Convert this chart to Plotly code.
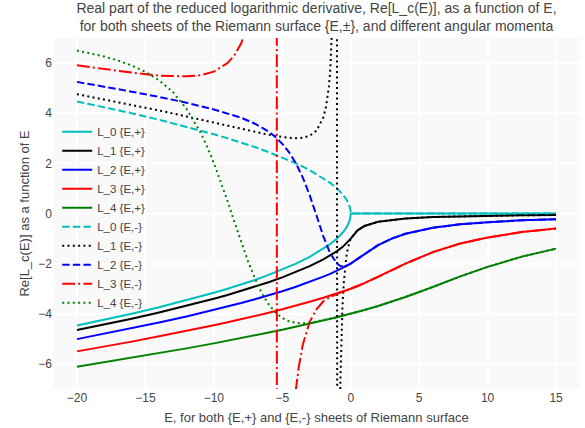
import plotly.graph_objects as go

# ---- data ----
E_pos = [0.5, 1, 2, 3, 4, 6, 8, 10, 12.5, 15]

E_main = [-20, -18, -16, -14, -12, -10, -9, -8, -7, -6, -5, -4, -3, -2, -1.5, -1,
          -0.6, -0.3, -0.1, -0.02, 0] + E_pos

L0_plus = [-4.47, -4.24, -4.00, -3.74, -3.46, -3.16, -3.00, -2.83, -2.65, -2.45, -2.24, -2.00,
           -1.73, -1.41, -1.22, -1.00, -0.77, -0.55, -0.32, -0.14, 0,
           0, 0, 0, 0, 0, 0, 0, 0, 0, 0]
L1_plus = [-4.65, -4.43, -4.20, -3.95, -3.69, -3.40, -3.25, -3.09, -2.92, -2.74, -2.55, -2.33,
           -2.10, -1.83, -1.67, -1.50, -1.34, -1.19, -1.08, -1.02, -1.00,
           -0.67, -0.50, -0.33, -0.25, -0.20, -0.14, -0.11, -0.09, -0.07, -0.06]
L2_plus = [-5.01, -4.80, -4.58, -4.35, -4.11, -3.85, -3.71, -3.57, -3.42, -3.27, -3.10, -2.92,
           -2.73, -2.52, -2.41, -2.29, -2.18, -2.09, -2.03, -2.01, -2.00,
           -1.81, -1.62, -1.26, -1.00, -0.81, -0.57, -0.43, -0.35, -0.27, -0.23]
L3_plus = [-5.50, -5.31, -5.11, -4.90, -4.69, -4.46, -4.34, -4.22, -4.09, -3.96, -3.82, -3.68,
           -3.52, -3.36, -3.28, -3.19, -3.12, -3.06, -3.02, -3.00, -3.00,
           -2.90, -2.78, -2.53, -2.27, -2.00, -1.54, -1.20, -0.96, -0.74, -0.60]
L4_plus = [-6.11, -5.93, -5.76, -5.57, -5.38, -5.18, -5.08, -4.97, -4.87, -4.75, -4.64, -4.52,
           -4.40, -4.27, -4.21, -4.14, -4.08, -4.04, -4.01, -4.00, -4.00,
           -3.93, -3.85, -3.69, -3.52, -3.33, -2.93, -2.51, -2.13, -1.72, -1.40]

L0_minus = [4.47, 4.24, 4.00, 3.74, 3.46, 3.16, 3.00, 2.83, 2.65, 2.45, 2.24, 2.00,
            1.73, 1.41, 1.22, 1.00, 0.77, 0.55, 0.32, 0.14, 0,
            0, 0, 0, 0, 0, 0, 0, 0, 0, 0]

E_L1m = [-20, -18, -16, -14, -12, -10, -9, -8, -7, -6, -5, -4, -3.5, -3, -2.5, -2, -1.8, -1.6,
         -1.5, -1.4, -1.3, -1.2, -1.05, -0.95, -0.9, -0.85, -0.8, -0.75, -0.7, -0.6, -0.5,
         -0.4, -0.3, -0.2, -0.1, -0.02, 0] + E_pos
L1_minus = [4.76, 4.55, 4.33, 4.11, 3.87, 3.62, 3.50, 3.38, 3.25, 3.14, 3.05, 3.00, 3.02, 3.10,
            3.30, 3.83, 4.27, 5.04, 5.67, 6.64, 8.27, 11.58, 41.5, -38.5, -18.55, -11.9,
            -8.58, -6.60, -5.29, -3.66, -2.71, -2.09, -1.66, -1.36, -1.15, -1.02, -1.00,
            -0.67, -0.50, -0.33, -0.25, -0.20, -0.14, -0.11, -0.09, -0.07, -0.06]

E_L2m = [-20, -18, -16, -14, -12, -10, -9, -8, -7, -6, -5.5, -5, -4.5, -4, -3.5, -3, -2.5,
         -2, -1.5, -1, -0.8, -0.6, -0.3, -0.1, -0.02, 0] + E_pos
L2_minus = [5.25, 5.06, 4.86, 4.65, 4.42, 4.15, 4.00, 3.82, 3.58, 3.27, 3.05, 2.78, 2.44,
            2.00, 1.43, 0.73, -0.08, -0.91, -1.59, -2.00, -2.08, -2.11, -2.08, -2.03,
            -2.01, -2.00,
            -1.81, -1.62, -1.26, -1.00, -0.81, -0.57, -0.43, -0.35, -0.27, -0.23]

E_L3m = [-20, -18, -16, -14, -13, -12, -11, -10, -9, -8.5, -8, -7.5, -7, -6, -5.6, -5.45,
         -5.34, -5.2, -5, -4.5, -4, -3.8, -3.5, -3, -2.5, -2, -1.5, -1, -0.6, -0.3, -0.1,
         -0.02, 0] + E_pos
L3_minus = [5.91, 5.75, 5.62, 5.50, 5.47, 5.47, 5.51, 5.66, 6.00, 6.31, 6.79, 7.58, 8.95,
            19.65, 53.8, 189, -205, -55.0, -26.1, -11.07, -7.00, -6.14, -5.23, -4.32,
            -3.82, -3.50, -3.33, -3.20, -3.12, -3.06, -3.02, -3.00, -3.00,
            -2.90, -2.78, -2.53, -2.27, -2.00, -1.54, -1.20, -0.96, -0.74, -0.60]

E_L4m = [-20, -19, -18, -17, -16, -15, -14, -13, -12, -11, -10.5, -10, -9.5, -9, -8.5, -8,
         -7.5, -7, -6.5, -6, -5.5, -5, -4.5, -4, -3.5, -3, -2, -1.5, -1, -0.6, -0.3, -0.1,
         -0.02, 0] + E_pos
L4_minus = [6.50, 6.39, 6.26, 6.10, 5.90, 5.65, 5.31, 4.85, 4.18, 3.26, 2.68, 2.02, 1.29,
            0.50, -0.33, -1.13, -1.91, -2.59, -3.17, -3.62, -3.95, -4.17, -4.30, -4.36,
            -4.38, -4.36, -4.26, -4.20, -4.14, -4.08, -4.04, -4.01, -4.00, -4.00,
            -3.93, -3.85, -3.69, -3.52, -3.33, -2.93, -2.51, -2.13, -1.72, -1.40]

names = ["L_0 {E,+}", "L_1 {E,+}", "L_2 {E,+}", "L_3 {E,+}", "L_4 {E,+}",
         "L_0 {E,-}", "L_1 {E,-}", "L_2 {E,-}", "L_3 {E,-}", "L_4 {E,-}"]

# ---- styles ----
colors = ["#00BFBF", "#000000", "#0000FF", "#FF0000", "#008000"]
DASH = "7.4px,3.2px"
DOT = "2px,3.3px"
DASHDOT = "12.8px,3.2px,2px,3.2px"
minus_dash = [DASH, DOT, DASH, DASHDOT, DOT]

series = [
    (E_main, L0_plus), (E_main, L1_plus), (E_main, L2_plus), (E_main, L3_plus), (E_main, L4_plus),
    (E_main, L0_minus), (E_L1m, L1_minus), (E_L2m, L2_minus), (E_L3m, L3_minus), (E_L4m, L4_minus),
]

fig = go.Figure()
for i, ((xs, ys), nm) in enumerate(zip(series, names)):
    c = colors[i % 5]
    dash = "solid" if i < 5 else minus_dash[i - 5]
    fig.add_trace(go.Scatter(x=xs, y=ys, mode="lines", name=nm,
                             line=dict(color=c, width=2, dash=dash)))

font_family = "Arial, Liberation Sans, sans-serif"
fig.update_layout(
    width=585, height=428,
    margin=dict(l=53, r=5, t=38, b=39),
    paper_bgcolor="white",
    plot_bgcolor="#f9f9f9",
    font=dict(family=font_family, size=12, color="#444"),
    title=dict(text="Real part of the reduced logarithmic derivative, Re[L_c(E)], as a function of E,"
                    "<br>for both sheets of the Riemann surface {E,±}, and different angular momenta",
               x=0.541, xanchor="center", y=0.969, yanchor="top",
               font=dict(size=14, color="#444")),
    legend=dict(x=0.008, y=0.774, xanchor="left", yanchor="top",
                bgcolor="rgba(0,0,0,0)", font=dict(size=11.5, color="#444"),
                tracegroupgap=0),
    showlegend=True,
)
fig.update_xaxes(range=[-21.75, 16.75], tickvals=[-20, -15, -10, -5, 0, 5, 10, 15],
                 gridcolor="white", gridwidth=1.5, zeroline=False, showline=False,
                 title=dict(text="E, for both {E,+} and {E,-} sheets of Riemann surface",
                            font=dict(size=13), standoff=8),
                 tickfont=dict(size=12))
fig.update_yaxes(range=[-7, 7], tickvals=[-6, -4, -2, 0, 2, 4, 6],
                 gridcolor="white", gridwidth=1.5, zeroline=False, showline=False,
                 title=dict(text="Re[L_c(E)] as a function of E", font=dict(size=13), standoff=5),
                 tickfont=dict(size=12))

fig.write_html("out.html")
